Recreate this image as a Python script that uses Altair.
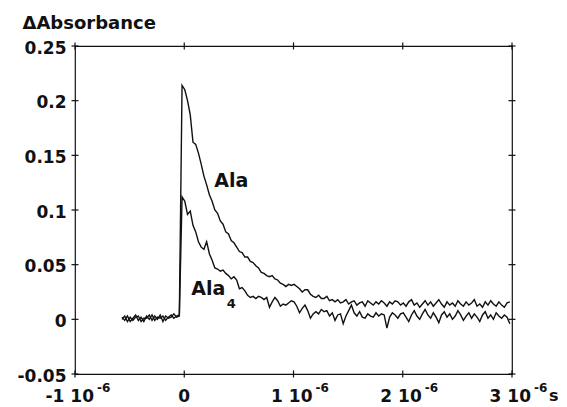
import altair as alt
import numpy as np
import pandas as pd

# ---------------- data ----------------
t_start_us = -0.57   # first sample time (microseconds)
t_step_us = 0.025    # sampling step (microseconds)

ala_baseline = [0.002, -0.001, 0.003, -0.002, 0.001, 0.004, -0.001, 0.002, -0.002, 0.003, 0.000,
                0.004, -0.001, 0.002, 0.001, 0.003, -0.001, 0.002, 0.004, 0.001, 0.003, 0.004]
ala_signal = [0.214, 0.210, 0.200, 0.187, 0.162, 0.160, 0.152, 0.142, 0.131, 0.123,
              0.114, 0.108, 0.100, 0.097, 0.090, 0.087, 0.080, 0.078, 0.072, 0.070,
              0.066, 0.062, 0.061, 0.057, 0.057, 0.053, 0.052, 0.049, 0.047, 0.043,
              0.042, 0.040, 0.039, 0.040, 0.037, 0.036, 0.033, 0.032, 0.030, 0.032,
              0.031, 0.032, 0.030, 0.028, 0.025, 0.027, 0.027, 0.023, 0.021, 0.020,
              0.022, 0.019, 0.019, 0.021, 0.017, 0.018, 0.016, 0.018, 0.015, 0.016,
              0.018, 0.014, 0.016, 0.017, 0.013, 0.015, 0.016, 0.012, 0.017, 0.015,
              0.013, 0.016, 0.014, 0.017, 0.015, 0.012, 0.016, 0.014, 0.017, 0.016, 0.013]
ala_tail = [0.015, 0.012, 0.016, 0.018, 0.013, 0.015, 0.011, 0.014, 0.017, 0.013,
            0.016, 0.012, 0.015, 0.018, 0.014, 0.011, 0.016, 0.013, 0.015, 0.012,
            0.017, 0.014, 0.012, 0.016, 0.013, 0.015, 0.018, 0.012, 0.014, 0.011,
            0.016, 0.013, 0.017, 0.014, 0.012, 0.016, 0.013, 0.011, 0.015, 0.016]

ala4_baseline = [0.000, 0.003, -0.002, 0.002, -0.001, 0.002, 0.003, -0.002, 0.001, 0.001, 0.004,
                 -0.001, 0.003, 0.000, 0.004, -0.002, 0.003, 0.001, 0.002, 0.005, 0.002, 0.003]
ala4_signal = [0.112, 0.108, 0.096, 0.099, 0.086, 0.080, 0.071, 0.066, 0.064, 0.071,
               0.060, 0.054, 0.047, 0.046, 0.044, 0.045, 0.042, 0.040, 0.037, 0.039,
               0.036, 0.028, 0.029, 0.026, 0.022, 0.020, 0.021, 0.019, 0.021, 0.020,
               0.018, 0.020, 0.011, 0.016, 0.020, 0.017, 0.012, 0.014, 0.013, 0.015,
               0.017, 0.016, 0.012, 0.006, 0.010, 0.013, 0.008, 0.001, 0.005, 0.007,
               0.005, 0.009, 0.007, 0.008, 0.003, 0.006, -0.001, 0.004, 0.005, -0.004,
               0.003, 0.008, 0.013, 0.006, 0.003, 0.007, 0.002, 0.001, 0.005, 0.003,
               0.002, 0.006, 0.003, 0.005, 0.004, -0.008, 0.002, 0.006, 0.004, 0.001, 0.005]
ala4_tail = [0.006, 0.002, -0.002, 0.004, 0.008, 0.003, 0.000, 0.005, 0.009, 0.004,
             0.001, 0.006, 0.002, -0.003, 0.004, 0.007, 0.002, 0.005, 0.000, 0.003,
             0.008, 0.004, -0.001, 0.003, 0.006, 0.001, 0.005, 0.002, -0.002, 0.004,
             0.007, 0.001, 0.004, 0.000, 0.006, 0.003, 0.001, 0.004, 0.002, -0.004]

y_ticks = [-0.05, 0.0, 0.05, 0.1, 0.15, 0.2, 0.25]
x_ticks = [-1, 0, 1, 2, 3]
x_main_vals = [-1, 1, 2, 3]
x_main_text = ["-1   10", "1 10", "2 10", "3 10"]
x_sup_text = ["-6", "-6", "-6", "-6"]
x_zero_text = ["0"]
unit_text = ["s"]

series_labels = [
    {"t": 0.274, "v": 0.121, "text": "Ala", "size": 19},
    {"t": 0.064, "v": 0.022, "text": "Ala", "size": 19},
    {"t": 0.39, "v": 0.010, "text": "4", "size": 13},
]

# ---------------- build table ----------------
ala = ala_baseline + ala_signal + ala_tail
ala4 = ala4_baseline + ala4_signal + ala4_tail
n = len(ala)
t = np.round(t_start_us + t_step_us * np.arange(n), 4)
df = pd.DataFrame({
    "t": np.concatenate([t, t]),
    "v": ala + ala4,
    "series": ["Ala"] * n + ["Ala4"] * n,
    "order": list(range(n)) * 2,
})

W, H = 437, 328
FONT = "DejaVu Sans"
INK = "#111111"

xs = alt.Scale(domain=[-1, 3], nice=False, zero=False)
ys = alt.Scale(domain=[-0.05, 0.25], nice=False, zero=False)

lines = alt.Chart(df).mark_line(strokeWidth=1.4, color=INK, clip=True).encode(
    x=alt.X("t:Q", scale=xs, axis=alt.Axis(labels=False, ticks=False, domain=False, grid=False, title=None)),
    y=alt.Y("v:Q", scale=ys, axis=alt.Axis(
        values=y_ticks, labelExpr="replace(format(datum.value, '~g'), '\u2212', '-')",
        ticks=False, domain=False, grid=False, labelPadding=9, labelOffset=2,
        labelFont=FONT, labelFontSize=17, labelFontWeight="bold", labelColor=INK,
        title="\u0394Absorbance", titleAngle=0, titleAlign="left", titleBaseline="alphabetic",
        titleX=-53, titleY=-18, titleFont=FONT, titleFontSize=18, titleFontWeight="bold",
        titleColor=INK)),
    detail="series:N",
    order="order:Q",
)

ytk = pd.DataFrame({"v": y_ticks})
xtk = pd.DataFrame({"t": x_ticks})

left_ticks = alt.Chart(ytk).mark_rule(color=INK, strokeWidth=1.2).encode(
    y=alt.Y("v:Q", scale=ys), x=alt.value(-3.5), x2=alt.value(3.5))
right_ticks = alt.Chart(ytk).mark_rule(color=INK, strokeWidth=1.2).encode(
    y=alt.Y("v:Q", scale=ys), x=alt.value(W - 3.5), x2=alt.value(W + 3.5))
top_ticks = alt.Chart(xtk).mark_rule(color=INK, strokeWidth=1.2).encode(
    x=alt.X("t:Q", scale=xs), y=alt.value(-3.5), y2=alt.value(3.5))
bottom_ticks = alt.Chart(xtk).mark_rule(color=INK, strokeWidth=1.2).encode(
    x=alt.X("t:Q", scale=xs), y=alt.value(H - 3.5), y2=alt.value(H + 3.5))

xl = pd.DataFrame({"t": x_main_vals, "main": x_main_text, "sup": x_sup_text})
x_main = alt.Chart(xl).mark_text(align="right", baseline="alphabetic", dx=19, font=FONT,
                                 fontSize=17, fontWeight="bold", color=INK).encode(
    x=alt.X("t:Q", scale=xs), y=alt.value(H + 28), text="main:N")
x_sup = alt.Chart(xl).mark_text(align="left", baseline="alphabetic", dx=22, font=FONT,
                                fontSize=12, fontWeight="bold", color=INK).encode(
    x=alt.X("t:Q", scale=xs), y=alt.value(H + 18), text="sup:N")
x_zero = alt.Chart(pd.DataFrame({"t": [0], "txt": x_zero_text})).mark_text(
    align="center", baseline="alphabetic", font=FONT, fontSize=17, fontWeight="bold", color=INK).encode(
    x=alt.X("t:Q", scale=xs), y=alt.value(H + 28), text="txt:N")
x_unit = alt.Chart(pd.DataFrame({"t": [3], "txt": unit_text})).mark_text(
    align="left", baseline="alphabetic", dx=37, font=FONT, fontSize=16, fontWeight="bold", color=INK).encode(
    x=alt.X("t:Q", scale=xs), y=alt.value(H + 27), text="txt:N")

lab = pd.DataFrame(series_labels)
series_text = alt.Chart(lab).mark_text(align="left", baseline="alphabetic", font=FONT,
                                       fontWeight="bold", color=INK).encode(
    x=alt.X("t:Q", scale=xs), y=alt.Y("v:Q", scale=ys), text="text:N",
    size=alt.Size("size:Q", scale=None, legend=None))

chart = alt.layer(lines, left_ticks, right_ticks, top_ticks, bottom_ticks,
                  x_main, x_sup, x_zero, x_unit, series_text).properties(
    width=W, height=H,
    autosize=alt.AutoSizeParams(type="none"),
    padding={"left": 67, "top": 38, "right": 47, "bottom": 33},
    background="white",
).configure_view(stroke=INK, strokeWidth=1.2)

chart.save("out.html", embed_options={"renderer": "svg", "actions": False})
